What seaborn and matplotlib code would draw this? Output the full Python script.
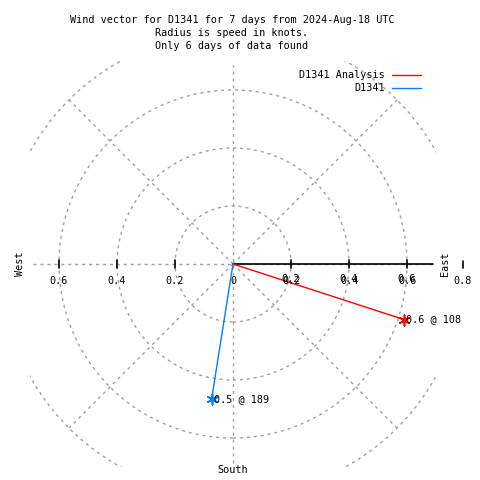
import numpy as np
import pandas as pd
import matplotlib
matplotlib.use("Agg")
import matplotlib.pyplot as plt
from matplotlib.lines import Line2D
from matplotlib.patches import Circle
import seaborn as sns

# ---- data ----
series = ["D1341 Analysis", "D1341"]
speeds = [0.62, 0.47]          # knots
directions = [108, 189]        # degrees, compass
colors = ["#ff0000", "#0080ff"]
grid_radii = [0.2, 0.4, 0.6, 0.8]
tick_vals = [0.2, 0.4, 0.6]
title_lines = ["Wind vector for D1341 for 7 days from 2024-Aug-18 UTC",
               "Radius is speed in knots.",
               "Only 6 days of data found"]

sns.set_style("white")
plt.rcParams['font.family'] = ['DejaVu Sans Mono', 'DejaVu Sans']
plt.rcParams['text.color'] = 'black'
FS = 7.3

fig = plt.figure(figsize=(4.8, 4.8), dpi=100)
L = 0.7
px = 203 / L  # pixels per unit
cx, cy = 233, 264
ax = fig.add_axes([(cx - 203) / 480, (480 - cy - 203) / 480, 406 / 480, 406 / 480])
ax.set_xlim(-L, L)
ax.set_ylim(-L, L)
ax.set_aspect("equal")
ax.axis("off")

gray = "#a0a0a0"
dash = (0, (2.2, 2.8))
# grid circles
for r in grid_radii:
    ax.add_patch(Circle((0, 0), r, fill=False, ec=gray, lw=1, ls=dash))
# spokes at 45 deg
for a in [45, 135, 225, 315]:
    t = np.deg2rad(a)
    ax.plot([0, 0.8 * np.cos(t)], [0, 0.8 * np.sin(t)], color=gray, lw=1, ls=dash)
# axis dashed lines
ax.plot([-0.69, 0.69], [0, 0], color=gray, lw=1, ls=dash)
ax.plot([0, 0], [-0.685, 0.685], color=gray, lw=1, ls=dash)
# black radial axis
ax.plot([0, 0.69], [0, 0], color="black", lw=1.2)
tk = 0.014
for v in tick_vals:
    for s in (-1, 1):
        ax.plot([s * v, s * v], [-tk, tk], color="black", lw=1.2)
# tick labels
ly = -17 / px
ax.text(0, ly, "0", fontsize=FS, ha="center", va="center")
for v in tick_vals:
    ax.text(-v, ly, f"{v:.1f}", fontsize=FS, ha="center", va="center")
    ax.text(v, ly + 2 / px, f"{v:.1f}", fontsize=FS, ha="center", va="center")
    ax.text(v + 1 / px, ly, f"{v:.1f}", fontsize=FS, ha="center", va="center")
ax.text(0.8 - 2 / px, ly, "0.8", fontsize=FS, ha="center", va="center", clip_on=False)
ax.plot([0.8 - 2 / px] * 2, [-3.5 / px, 3 / px], color="black", lw=1.2, clip_on=False)

# direction labels
ax.text(-213 / px, 0, "West", fontsize=FS, rotation=90, ha="center", va="center", clip_on=False)
ax.text(212 / px, 0, "East", fontsize=FS, rotation=90, ha="center", va="center", clip_on=False)
ax.text(0, -206 / px, "South", fontsize=FS, ha="center", va="center", clip_on=False)

# vectors
for name, sp, d, c in zip(series, speeds, directions, colors):
    t = np.deg2rad(d)
    df = pd.DataFrame({"x": [0.0, sp * np.sin(t)], "y": [0.0, sp * np.cos(t)]})
    sns.lineplot(data=df, x="x", y="y", sort=False, color=c, lw=1, ax=ax, estimator=None)
    sns.scatterplot(data=df.iloc[[1]], x="x", y="y", marker=(6, 2, 0), s=60,
                    color=c, linewidth=1.2, ax=ax)
    ax.text(df.x[1] + 2 / px, df.y[1], f"{sp:.1f} @ {d}", fontsize=FS,
            ha="left", va="center", clip_on=False)
ax.set_xlabel("")
ax.set_ylabel("")

# legend (text then line)
for i, (name, c) in enumerate(zip(series, colors)):
    yy = 1 - (75 + 13 * i) / 480
    fig.text(385 / 480, yy, name, fontsize=FS, ha="right", va="center")
    fig.add_artist(Line2D([392 / 480, 421 / 480], [yy, yy], color=c, lw=1,
                          transform=fig.transFigure))

# title
for i, tl in enumerate(title_lines):
    fig.text(232 / 480, 1 - (20 + 13 * i) / 480, tl, fontsize=FS, ha="center", va="center")

fig.savefig("out.png", dpi=100, facecolor="white")
